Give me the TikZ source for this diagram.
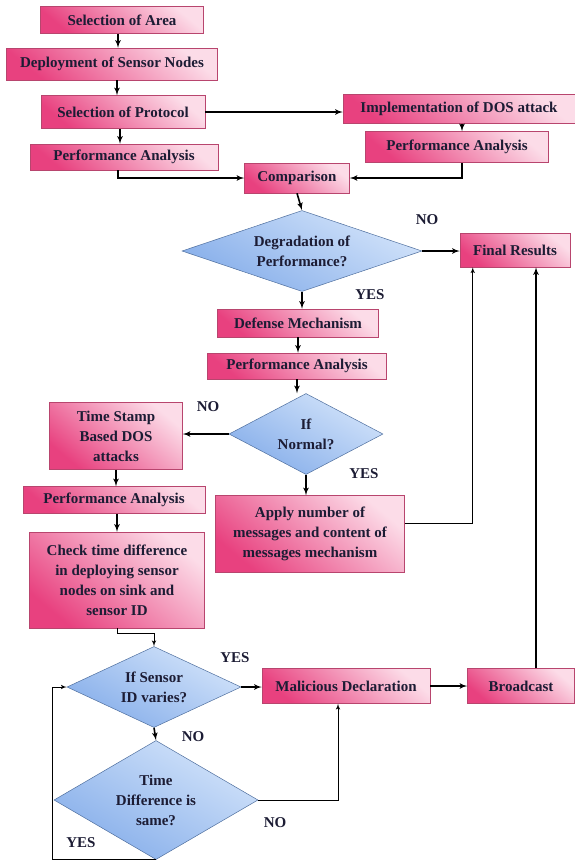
\documentclass[tikz,border=0pt]{standalone}
\usepackage{fontspec}
\setmainfont{Liberation Serif}
\usetikzlibrary{shapes,arrows}
\definecolor{pinkdeep}{HTML}{E8417F}
\definecolor{pinklight}{HTML}{FCDCE8}
\definecolor{pinkedge}{HTML}{B8456E}
\definecolor{bluelight}{HTML}{D2E3FA}
\definecolor{bluedeep}{HTML}{86AEEA}
\definecolor{blueedge}{HTML}{4F6F9E}
\definecolor{ink}{HTML}{1C1C34}
\tikzstyle{block} = [rectangle, draw=pinkedge, line width=0.5pt, top color=pinklight,
	bottom color=pinkdeep, shading angle=-40, text=ink, align=center, inner sep=0pt]
\tikzstyle{decision} = [diamond, draw=blueedge, line width=0.5pt, top color=bluelight,
	bottom color=bluedeep, shading angle=-30, text=ink, align=center, inner sep=0pt]
\tikzstyle{line} = [draw, -latex', line width=1.6pt]
\tikzstyle{thinline} = [draw, -latex', line width=1pt]
\tikzstyle{tag} = [text=ink]

\begin{document}
\begin{tikzpicture}[x=1pt, y=-1pt, font=\fontsize{15}{20}\selectfont\bfseries]
	\useasboundingbox (0,0) rectangle (575,865);
	% Place nodes
	\node [block, minimum width=163pt, minimum height=27pt] (area) at (122,20) {Selection of Area};
	\node [block, minimum width=211pt, minimum height=32pt] (deploy) at (112,64) {Deployment of Sensor Nodes};
	\node [block, minimum width=164pt, minimum height=33pt] (protocol) at (123,112) {Selection of Protocol};
	\node [block, minimum width=188pt, minimum height=26pt] (perfA) at (124,157) {Performance Analysis};
	\node [block, minimum width=232pt, minimum height=29pt] (dos) at (459,109) {Implementation of DOS attack};
	\node [block, minimum width=183pt, minimum height=31pt] (perfB) at (457,147) {Performance Analysis};
	\node [block, minimum width=105pt, minimum height=30pt] (compar) at (297,178) {Comparison};
	\node [decision, minimum width=240pt, minimum height=81pt, aspect=3] (degrad) at (302,251) {Degradation of\\Performance?};
	\node [block, minimum width=110pt, minimum height=34pt] (final) at (515,250) {Final Results};
	\node [block, minimum width=161pt, minimum height=28pt] (defense) at (298,323) {Defense Mechanism};
	\node [block, minimum width=179pt, minimum height=26pt] (perfC) at (297,366) {Performance Analysis};
	\node [decision, minimum width=154pt, minimum height=81pt, aspect=1.9] (normal) at (306,434) {If\\Normal?};
	\node [block, minimum width=133pt, minimum height=67pt] (stamp) at (116,436) {Time Stamp\\Based DOS\\attacks};
	\node [block, minimum width=189pt, minimum height=77pt] (apply) at (310,534) {Apply number of\\messages and content of\\messages mechanism};
	\node [block, minimum width=182pt, minimum height=27pt] (perfD) at (114,500) {Performance Analysis};
	\node [block, minimum width=175pt, minimum height=96pt] (check) at (117,580) {Check time difference\\in deploying sensor\\nodes on sink and\\sensor ID};
	\node [decision, minimum width=174pt, minimum height=81pt, aspect=2.15] (sensor) at (154,687) {If Sensor\\ID varies?};
	\node [decision, minimum width=204pt, minimum height=119pt, aspect=1.7] (timediff) at (156,800) {Time\\Difference is\\same?};
	\node [block, minimum width=168pt, minimum height=35pt] (malic) at (346,686) {Malicious Declaration};
	\node [block, minimum width=107pt, minimum height=35pt] (broad) at (521,686) {Broadcast};
	% Labels
	\node [tag] (noA) at (427,220) {NO};
	\node [tag] (yesA) at (370,295) {YES};
	\node [tag] (noB) at (208,407) {NO};
	\node [tag] (yesB) at (364,474) {YES};
	\node [tag] (yesC) at (235,658) {YES};
	\node [tag] (noC) at (193,737) {NO};
	\node [tag] (noD) at (275,823) {NO};
	\node [tag] (yesD) at (81,843) {YES};
	% Draw edges
	\path [line] (area.south -| deploy.north) ++(6,0) -- ([xshift=6pt]deploy.north);
	\path [line] ([xshift=5pt]deploy.south) -- ([xshift=5pt]deploy.south |- protocol.north);
	\path [line] ([xshift=-3pt]protocol.south) -- ([xshift=-3pt]protocol.south |- perfA.north);
	\path [line] ([xshift=-6pt]perfA.south) |- (compar.west);
	\path [line] (protocol.east) -- (protocol.east -| dos.west);
	\path [line] ([xshift=3pt]dos.south) -- ([xshift=3pt]dos.south |- perfB.north);
	\path [line] ([xshift=5pt]perfB.south) |- (compar.east);
	\path [line] (compar.south) -- (degrad.north);
	\path [line] (degrad.east) -- (degrad.east -| final.west);
	\path [line] (degrad.south) -- (degrad.south |- defense.north);
	\path [line] (defense.south) -- (defense.south |- perfC.north);
	\path [line] (perfC.south) -- (perfC.south |- normal.north);
	\path [line] (normal.west) -- (normal.west -| stamp.east);
	\path [line] (normal.south) -- (normal.south |- apply.north);
	\path [thinline] ([yshift=11pt]apply.east) -| ([xshift=13pt]final.south west);
	\path [line] ([xshift=15pt]broad.north) -- ([xshift=15pt]broad.north |- final.south);
	\path [line] (stamp.south) -- (stamp.south |- perfD.north);
	\path [line] ([xshift=3pt]perfD.south) -- ([xshift=3pt]perfD.south |- check.north);
	\path [thinline] (check.south) -- ++(0,5) -| (sensor.north);
	\path [line] (sensor.east) -- (sensor.east -| malic.west);
	\path [line] (malic.east) -- (malic.east -| broad.west);
	\path [line] (sensor.south) -- (timediff.north);
	\path [thinline] (timediff.east) -| ([xshift=-8pt]malic.south);
	\path [thinline] (timediff.south) -- ++(-104,0) |- (sensor.west);
\end{tikzpicture}
\end{document}
